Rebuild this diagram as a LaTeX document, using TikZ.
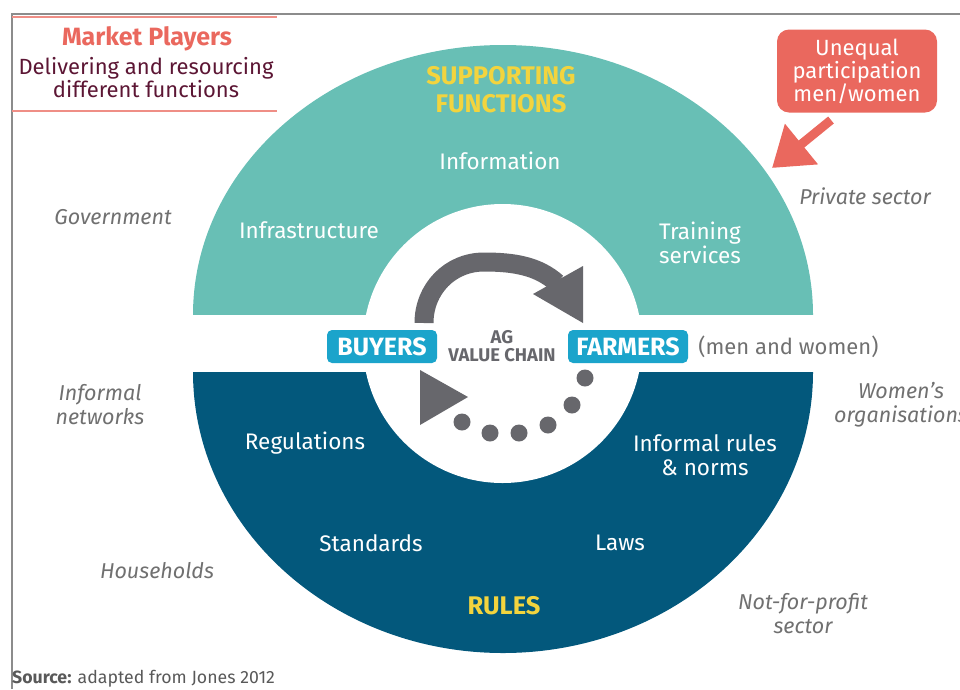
\documentclass[tikz,border=0pt]{standalone}
\usepackage{fontspec}
\setmainfont{Fira Sans}
\usetikzlibrary{positioning,arrows.meta}

\definecolor{supteal}{RGB}{104,191,181}
\definecolor{rulblue}{RGB}{3,88,124}
\definecolor{hiyellow}{RGB}{242,212,62}
\definecolor{coral}{RGB}{234,104,94}
\definecolor{plum}{RGB}{92,22,52}
\definecolor{chainblue}{RGB}{27,164,203}
\definecolor{chaingray}{RGB}{103,103,108}
\definecolor{outgray}{RGB}{112,112,112}
\definecolor{framegray}{RGB}{140,140,140}

\begin{document}
\begin{tikzpicture}[x=1pt,y=-1pt,
  func/.style={text=white,align=center,inner sep=0pt,font=\fontsize{22.5}{24}\selectfont},
  headline/.style={text=hiyellow,align=center,inner sep=0pt,font=\bfseries\fontsize{25.5}{28}\selectfont},
  player/.style={text=outgray,align=center,inner sep=0pt,font=\itshape\fontsize{21.5}{24}\selectfont},
  actor/.style={fill=chainblue,text=white,rounded corners=5pt,font=\bfseries\fontsize{25}{25}\selectfont,minimum height=33pt,inner sep=0pt},
  dot/.style={circle,fill=chaingray,minimum size=17pt,inner sep=0pt}]
\def\cx{503};
\def\ctop{315};
\def\cbot{372};
\def\rx{310};

\useasboundingbox (0,0) rectangle (960,689);

% frame and title box
\draw[framegray,line width=1.2pt] (12,689) -- (12,14) -- (960,14);
\draw[coral!75,line width=2pt] (12,17) -- (277,17) (12,111) -- (277,111);

% the two halves and the hole
\fill[supteal] (\cx-\rx,\ctop) arc[start angle=180,end angle=360,x radius=\rx,y radius=270] -- cycle;
\fill[rulblue] (\cx-\rx,\cbot) arc[start angle=180,end angle=0,x radius=\rx,y radius=281] -- cycle;
\fill[white] (502.5,343.5) circle[radius=139.5];
\fill[white] (150,\ctop) rectangle (860,\cbot);

\node[inner sep=0pt,text=coral,font=\bfseries\fontsize{25}{26}\selectfont] (mp) at (147,39) {Market Players};
\node[inner sep=0pt,text=plum,align=center,font=\fontsize{22}{23}\selectfont] (deliv) at (146,78) {Delivering and resourcing\\different functions};

% supporting functions
\node[headline] (sup) at (501,90) {SUPPORTING\\FUNCTIONS};
\node[func] (info) at (500,161) {Information};
\node[func] (infra) at (309,230) {Infrastructure};
\node[func] (train) at (700,243) {Training\\services};

% rules
\node[func] (regul) at (305,443) {Regulations};
\node[func] (inform) at (705,455) {Informal rules\\\& norms};
\node[func] (stand) at (371,543) {Standards};
\node[func] (laws) at (620,543) {Laws};
\node[headline] (rules) at (504,606) {RULES};

% market players around
\node[player] (gov) at (113,217) {Government};
\node[player] (priv) at (865,196) {Private sector};
\node[player] (infnet) at (100,405) {Informal\\networks};
\node[player] (women) at (901,405) {Women's\\organisations};
\node[player] (house) at (157,571) {Households};
\node[player] (npo) at (803,614) {Not-for-profit\\sector};

% value chain
\node[actor,minimum width=110pt] (buy) at (382,346.5) {BUYERS};
\node[actor,minimum width=120pt] (farm) at (628,346.5) {FARMERS};
\node[right=10pt of farm,inner sep=0pt,text=outgray,font=\fontsize{22}{24}\selectfont] (menwom) {(men and women)};
\node[inner sep=0pt,text=chaingray,align=center,font=\bfseries\fontsize{18.4}{18}\selectfont] (agvc) at (502,346) {AG\\VALUE CHAIN};

\draw[chaingray,line width=19pt] (424,323) .. controls (424,289) and (450,262) .. (484,262)
  .. controls (514,262) and (538,266) .. (557,283);
\fill[chaingray] (583,266) -- (583,323) -- (533,294) -- cycle;
\fill[chaingray] (420,370) -- (468,397) -- (420,425) -- cycle;
\foreach \x/\y [count=\i] in {585/378,572/405,548/425,519/433,490/433,462/422}
  \node[dot] (d\i) at (\x,\y) {};

% callout
\node[fill=coral,rounded corners=12pt,text=white,align=center,minimum width=160pt,minimum height=83pt,inner sep=0pt,font=\fontsize{22}{23}\selectfont] (uneq) at (857,71) {Unequal\\participation\\men/women};
\coordinate (tail) at (831,120);
\coordinate (tip) at (772,168);
\draw[coral,line width=9pt,-{Triangle[length=38pt,width=50pt]}] (tail) -- (tip);

\node[anchor=west,inner sep=0pt,text=black!65,font=\fontsize{17.7}{20}\selectfont] (src) at (12,679) {\textbf{Source:} adapted from Jones 2012};

\end{tikzpicture}
\end{document}
